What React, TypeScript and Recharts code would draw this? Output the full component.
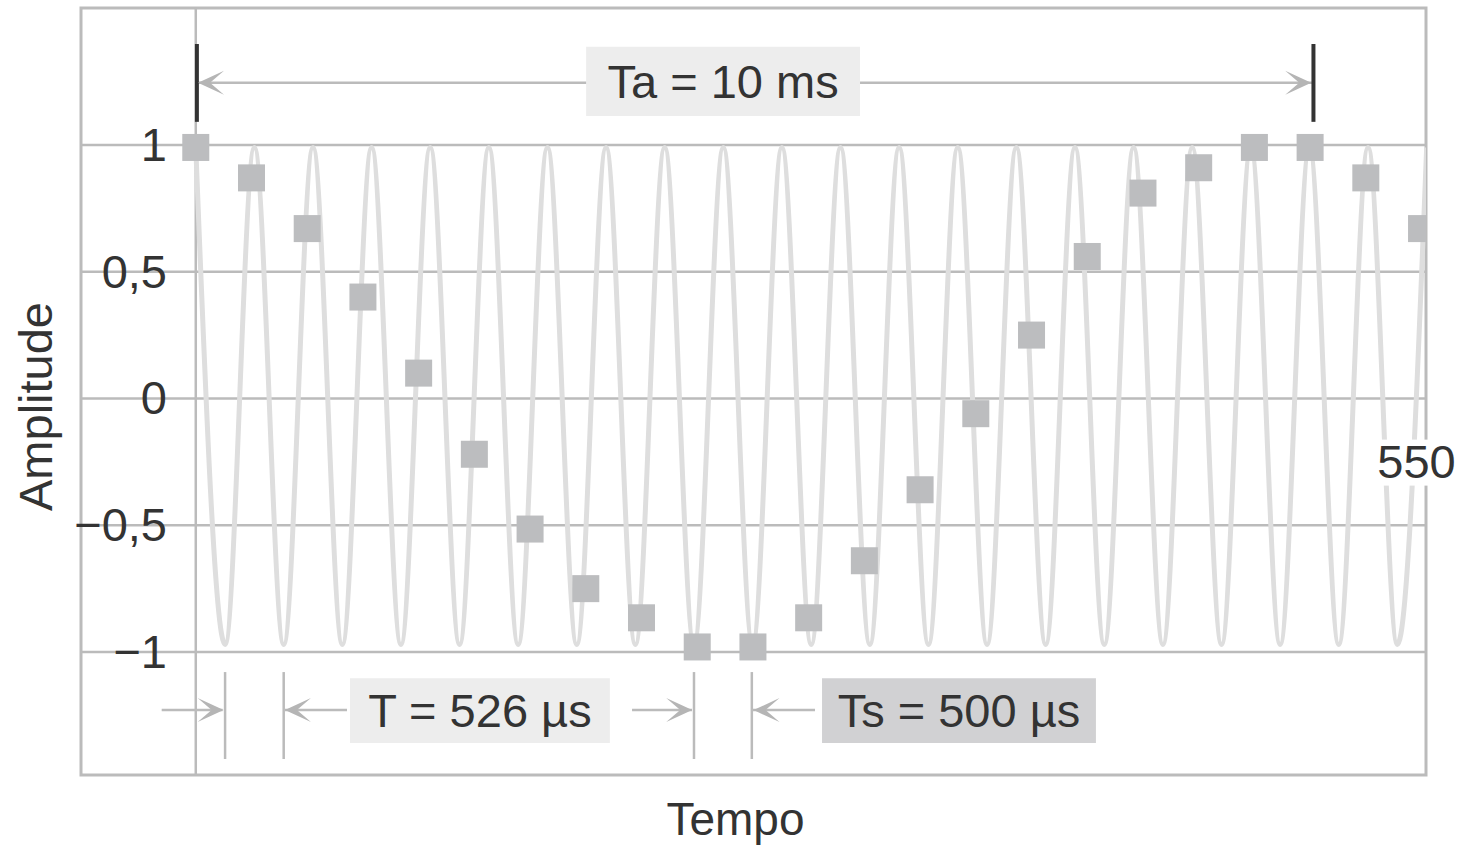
import React from 'react'
import {
  ComposedChart,
  Line,
  Scatter,
  XAxis,
  YAxis,
  CartesianGrid,
  ReferenceLine,
  ReferenceArea,
  ReferenceDot,
} from 'recharts'

// sampled points (Ts = 500 µs), time in ms
const sampleTimes = [0, 0.5, 1, 1.5, 2, 2.5, 3, 3.5, 4, 4.5, 5, 5.5, 6, 6.5, 7, 7.5, 8, 8.5, 9, 9.5, 10, 10.5, 11]
const sampleValues = [
  0.99, 0.87, 0.67, 0.4, 0.1, -0.22, -0.515, -0.75, -0.865, -0.98, -0.98, -0.865,
  -0.64, -0.36, -0.06, 0.25, 0.56, 0.81, 0.91, 0.99, 0.99, 0.87, 0.67,
]

// peaks and troughs of the original 1900 Hz wave (T = 526 µs), time in ms
const waveTimes = [
  0, 0.263, 0.526, 0.789, 1.052, 1.315, 1.578, 1.841, 2.104, 2.367, 2.63, 2.893,
  3.156, 3.419, 3.682, 3.945, 4.208, 4.471, 4.734, 4.997, 5.26, 5.523, 5.786, 6.049,
  6.312, 6.575, 6.838, 7.101, 7.364, 7.627, 7.89, 8.153, 8.416, 8.679, 8.942, 9.205,
  9.468, 9.731, 9.994, 10.257, 10.52, 10.783, 11.046,
]
const waveValues = [
  0.99, -0.97, 0.99, -0.97, 0.99, -0.97, 0.99, -0.97, 0.99, -0.97, 0.99, -0.97,
  0.99, -0.97, 0.99, -0.97, 0.99, -0.97, 0.99, -0.97, 0.99, -0.97, 0.99, -0.97,
  0.99, -0.97, 0.99, -0.97, 0.99, -0.97, 0.99, -0.97, 0.99, -0.97, 0.99, -0.97,
  0.99, -0.97, 0.99, -0.97, 0.99, -0.97, 0.99,
]

const yTicks = [-1, -0.5, 0, 0.5, 1]

const samples = sampleTimes.map((t, i) => ({ t, v: sampleValues[i] }))
const wave = waveTimes.map((t, i) => ({ t, v: waveValues[i] }))

const FONT = '"Liberation Sans", Arial, Helvetica, sans-serif'
const INK = '#333'
const RULE = '#bbbbbb'

const fmt = (v: number) =>
  v === 0 ? '0' : (v < 0 ? '\u2212' : '') + String(Math.abs(v)).replace('.', ',')

const AmpTick = (props: any) => {
  const { x, y, payload } = props
  return (
    <text x={x + 86} y={y} dy={16} textAnchor="end" fontSize={47} fontFamily={FONT} fill={INK}>
      {fmt(payload.value)}
    </text>
  )
}

const YTitle = (props: any) => {
  const { x, y, height } = props.viewBox
  const bx = x + 52
  const by = y + height / 2 + 15
  return (
    <text transform={`translate(${bx}, ${by}) rotate(-90)`} textAnchor="middle" fontSize={47} fontFamily={FONT} fill={INK}>
      Amplitude
    </text>
  )
}

const XTitle = (props: any) => {
  const { x, y, width } = props.viewBox
  return (
    <text x={x + width / 2 - 18} y={y + 60} textAnchor="middle" fontSize={46} fontFamily={FONT} fill={INK}>
      Tempo
    </text>
  )
}

const SampleSquare = (props: any) => {
  const { cx, cy } = props
  return <rect x={cx - 13.5} y={cy - 13.5} width={27} height={27} fill="#bcbdbf" />
}

// notched arrowhead, tip at (cx, cy); dir -1 points left, 1 points right
const Arrowhead = ({ cx, cy, dir }: any) => {
  const L = 26
  const H = 12
  const N = 12
  const pts = [
    [cx, cy],
    [cx - dir * L, cy - H],
    [cx - dir * N, cy],
    [cx - dir * L, cy + H],
  ]
  return <polygon points={pts.map((p) => p.join(',')).join(' ')} fill="#b5b5b5" />
}

const Note550 = (props: any) => {
  const { cx, cy } = props
  return (
    <g>
      <rect x={cx - 42} y={cy - 22} width={86} height={46} fill="#fff" />
      <text x={cx} y={cy} dy={16} textAnchor="middle" fontSize={47} fontFamily={FONT} fill={INK}>
        550
      </text>
    </g>
  )
}

const boxLabel = (value: string) => ({
  value,
  position: 'center' as const,
  fontSize: 47,
  fontFamily: FONT,
  fill: INK,
})

export default function App() {
  return (
    <div style={{ position: 'absolute', left: 0, top: 0, background: '#fff' }}>
      <ComposedChart width={1464} height={846} margin={{ top: 8, right: 38, bottom: 0, left: 0 }}>
        <CartesianGrid vertical={false} stroke={RULE} strokeWidth={2.5} horizontalValues={yTicks} />
        <XAxis
          type="number"
          dataKey="t"
          domain={[-1.03, 11.04]}
          allowDataOverflow
          tick={false}
          axisLine={false}
          tickLine={false}
          height={71}
          label={{ content: <XTitle /> }}
        />
        <YAxis
          type="number"
          dataKey="v"
          domain={[-1.485, 1.54]}
          ticks={yTicks}
          width={81}
          axisLine={false}
          tickLine={false}
          tickSize={0}
          tickMargin={0}
          tick={<AmpTick />}
          label={{ content: <YTitle /> }}
        />

        {/* frame and label boxes */}
        <ReferenceArea x1={-1.03} x2={11.04} y1={-1.485} y2={1.54} fill="none" stroke={RULE} strokeWidth={3} />
        <ReferenceArea x1={3.503} x2={5.961} y1={1.114} y2={1.387} fill="#ededed" fillOpacity={1} label={boxLabel('Ta = 10 ms')} />
        <ReferenceArea x1={1.384} x2={3.716} y1={-1.359} y2={-1.103} fill="#ededed" fillOpacity={1} label={boxLabel('T = 526 µs')} />
        <ReferenceArea x1={5.62} x2={8.078} y1={-1.359} y2={-1.103} fill="#d1d1d3" fillOpacity={1} label={boxLabel('Ts = 500 µs')} />

        <ReferenceLine x={0} stroke={RULE} strokeWidth={2.5} />

        <Line
          data={wave}
          dataKey="v"
          type="monotone"
          stroke="#dedede"
          strokeWidth={5}
          dot={false}
          activeDot={false}
          isAnimationActive={false}
        />
        <Scatter data={samples} dataKey="v" shape={<SampleSquare />} isAnimationActive={false} />

        {/* Ta dimension */}
        <ReferenceLine segment={[{ x: 0, y: 1.245 }, { x: 3.503, y: 1.245 }]} stroke={RULE} strokeWidth={2.5} />
        <ReferenceLine segment={[{ x: 5.961, y: 1.245 }, { x: 10.02, y: 1.245 }]} stroke={RULE} strokeWidth={2.5} />
        <ReferenceLine segment={[{ x: 0.01, y: 1.091 }, { x: 0.01, y: 1.398 }]} stroke="#333" strokeWidth={4} />
        <ReferenceLine segment={[{ x: 10.03, y: 1.091 }, { x: 10.03, y: 1.398 }]} stroke="#333" strokeWidth={4} />
        <ReferenceDot x={0.02} y={1.245} r={0} shape={<Arrowhead dir={-1} />} />
        <ReferenceDot x={10.01} y={1.245} r={0} shape={<Arrowhead dir={1} />} />

        {/* T dimension */}
        <ReferenceLine segment={[{ x: -0.306, y: -1.229 }, { x: 0.24, y: -1.229 }]} stroke={RULE} strokeWidth={2.5} />
        <ReferenceLine segment={[{ x: 0.263, y: -1.079 }, { x: 0.263, y: -1.422 }]} stroke={RULE} strokeWidth={2.5} />
        <ReferenceLine segment={[{ x: 0.789, y: -1.079 }, { x: 0.789, y: -1.422 }]} stroke={RULE} strokeWidth={2.5} />
        <ReferenceLine segment={[{ x: 0.8, y: -1.229 }, { x: 1.357, y: -1.229 }]} stroke={RULE} strokeWidth={2.5} />
        <ReferenceDot x={0.25} y={-1.229} r={0} shape={<Arrowhead dir={1} />} />
        <ReferenceDot x={0.8} y={-1.229} r={0} shape={<Arrowhead dir={-1} />} />

        {/* Ts dimension */}
        <ReferenceLine segment={[{ x: 3.915, y: -1.229 }, { x: 4.453, y: -1.229 }]} stroke={RULE} strokeWidth={2.5} />
        <ReferenceLine segment={[{ x: 4.471, y: -1.079 }, { x: 4.471, y: -1.422 }]} stroke={RULE} strokeWidth={2.5} />
        <ReferenceLine segment={[{ x: 4.99, y: -1.079 }, { x: 4.99, y: -1.422 }]} stroke={RULE} strokeWidth={2.5} />
        <ReferenceLine segment={[{ x: 5.0, y: -1.229 }, { x: 5.557, y: -1.229 }]} stroke={RULE} strokeWidth={2.5} />
        <ReferenceDot x={4.455} y={-1.229} r={0} shape={<Arrowhead dir={1} />} />
        <ReferenceDot x={5.005} y={-1.229} r={0} shape={<Arrowhead dir={-1} />} />

        <ReferenceDot x={10.955} y={-0.249} r={0} shape={<Note550 />} />
      </ComposedChart>
    </div>
  )
}
